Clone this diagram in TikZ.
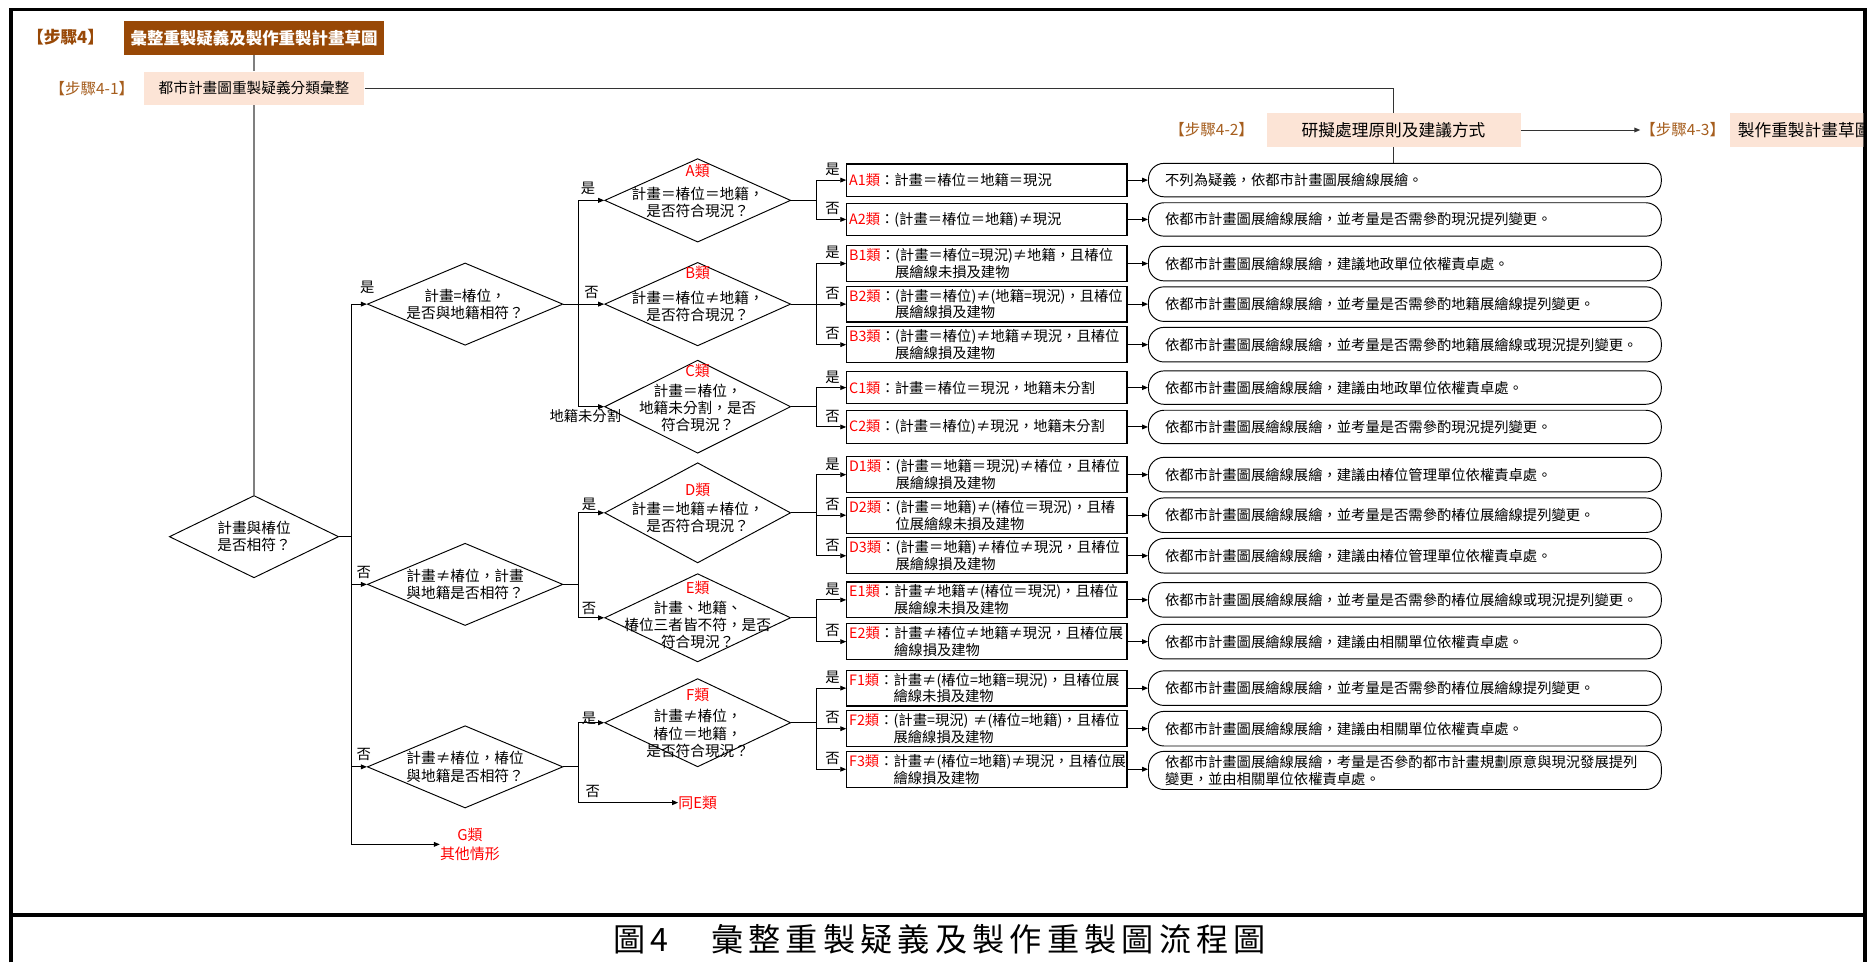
\documentclass[tikz,border=0pt]{standalone}
\usepackage{fontspec}
\setmainfont{Noto Sans CJK TC}
\newfontfamily\capfont[LetterSpace=16]{Noto Sans CJK TC}
\usetikzlibrary{shapes.geometric,arrows.meta}
\definecolor{brn}{HTML}{984806}
\definecolor{brn2}{HTML}{A65E1E}
\definecolor{peach}{HTML}{FCE4D6}
\definecolor{rd}{HTML}{FF0000}
\definecolor{lgray}{HTML}{7F7F7F}
\tikzset{
 ln/.style={line width=0.8pt},
 arr/.style={line width=0.8pt,-{Triangle[length=5pt,width=4pt]}},
 dia/.style={draw,diamond,inner sep=0pt,line width=0.8pt},
 cbox/.style={draw,line width=0.9pt,rectangle,text width=231pt,inner xsep=2pt,inner ysep=0pt,align=left,font=\fontsize{12}{14}\selectfont},
 rbox/.style={draw,line width=0.8pt,rounded corners=13pt,text width=402pt,inner xsep=14pt,inner ysep=0pt,align=left,font=\fontsize{12}{14.5}\selectfont},
 lbl/.style={font=\fontsize{12.3}{14.5}\selectfont,align=center,inner sep=0pt},
 yn/.style={font=\fontsize{12}{14}\selectfont,inner sep=0pt},
 cls/.style={text=rd,font=\fontsize{12.5}{14}\selectfont,inner sep=0pt},
 stp/.style={font=\fontsize{13}{15}\selectfont,text=brn2,inner sep=0pt},
 pbox/.style={fill=peach,minimum height=28pt,inner sep=0pt},
}
\newcommand{\cl}[1]{\textcolor{rd}{#1}}
\begin{document}
\begin{tikzpicture}[x=1pt,y=-1pt]
\useasboundingbox (0,0) rectangle (1568,807);
\fill[white] (0,0) rectangle (1568,807);
% frame
\draw[line width=3pt] (9,807) -- (9,8) -- (1564,8) -- (1564,807);
\draw[line width=3pt] (9,767) -- (1564,767);
\node[font=\capfont\fontsize{27}{30}\selectfont,inner sep=0pt] (cap) at (788,788) {圖4　彙整重製疑義及製作重製圖流程圖};

% top steps
\node[font=\bfseries\fontsize{14}{16}\selectfont,text=brn,inner sep=0pt] (s4) at (55,31) {【步驟4】};
\node[fill=brn,text=white,font=\bfseries\fontsize{13.8}{16}\selectfont,minimum width=218pt,minimum height=28pt,inner sep=0pt] (t4) at (213,32) {彙整重製疑義及製作重製計畫草圖};
\node[stp] (s41) at (77,74) {【步驟4-1】};
\node[pbox,minimum width=185pt,font=\fontsize{12.3}{14}\selectfont] (q41) at (213,74) {都市計畫圖重製疑義分類彙整};
\node[stp] (s42) at (1016,109) {【步驟4-2】};
\node[pbox,minimum width=213pt,font=\fontsize{14}{16}\selectfont] (q42) at (1168.5,109) {研擬處理原則及建議方式};
\node[stp] (s43) at (1411,109) {【步驟4-3】};
\begin{scope}
\clip (0,0) rectangle (1562.5,807);
\node[pbox,anchor=west,minimum width=160pt,text width=150pt,inner xsep=7pt,align=left,font=\fontsize{14}{16}\selectfont] (q43) at (1450,109) {製作重製計畫草圖};
\end{scope}
\draw[line width=1pt,lgray] (t4.south) -- (q41.north);
\draw[line width=0.9pt,black!80] (q41.east) -| (q42.north);
\draw[arr,black!80] (q42.east) -- (s43.west);

% level-1 diamond
\node[dia,minimum width=142pt,minimum height=69pt] (d1) at (213,450) {};
\node[lbl] (t1) at (d1.center) {計畫與椿位\\是否相符？};
\draw[line width=1pt,lgray] (q41.south) -- (d1.north);

% level-2 diamonds
\node[dia,minimum width=164pt,minimum height=69pt] (d2) at (390,255) {};
\node[lbl] (t2) at (d2.center) {計畫=椿位，\\是否與地籍相符？};
\node[dia,minimum width=164pt,minimum height=69pt] (d3) at (390,490) {};
\node[lbl] (t3) at (d3.center) {計畫≠椿位，計畫\\與地籍是否相符？};
\node[dia,minimum width=164pt,minimum height=69pt] (d4) at (390,643) {};
\node[lbl] (t4b) at (d4.center) {計畫≠椿位，椿位\\與地籍是否相符？};
\node[cls,align=center,font=\fontsize{12.5}{16}\selectfont] (G) at (394,708) {G類\\其他情形};

\coordinate (cL) at (295,0);
\draw[ln] (d1.east) -- (d1.east -| cL);
\draw[arr] (d1.east -| cL) |- (d2.west);
\draw[arr] (d1.east -| cL) |- (d3.west);
\draw[arr] (d1.east -| cL) |- (d4.west);
\draw[arr] (d1.east -| cL) |- (G.west);
\node[yn] (y2) at (308,241) {是};
\node[yn] (n3) at (305,480) {否};
\node[yn] (n4) at (305,633) {否};

% level-3 diamonds
\node[dia,minimum width=156pt,minimum height=70pt] (dA) at (585,168) {};
\node[cls] (cA) at (585,143) {A類};
\node[lbl] (tA) at (585,170) {計畫＝椿位＝地籍，\\是否符合現況？};
\node[dia,minimum width=156pt,minimum height=70pt] (dB) at (585,255) {};
\node[cls] (cB) at (585,229) {B類};
\node[lbl] (tB) at (585,257) {計畫＝椿位≠地籍，\\是否符合現況？};
\node[dia,minimum width=156pt,minimum height=78pt] (dC) at (585,341) {};
\node[cls] (cC) at (585,311) {C類};
\node[lbl] (tC) at (585,342) {計畫＝椿位，\\地籍未分割，是否\\符合現況？};
\node[dia,minimum width=156pt,minimum height=84pt] (dD) at (585,430) {};
\node[cls] (cD) at (585,411) {D類};
\node[lbl] (tD) at (585,434) {計畫＝地籍≠椿位，\\是否符合現況？};
\node[dia,minimum width=156pt,minimum height=74pt] (dE) at (585,518) {};
\node[cls] (cE) at (585,493) {E類};
\node[lbl] (tE) at (585,524) {計畫、地籍、\\椿位三者皆不符，是否\\符合現況？};
\node[dia,minimum width=156pt,minimum height=74pt] (dF) at (585,606) {};
\node[cls] (cF) at (585,583) {F類};
\node[lbl] (tF) at (585,615) {計畫≠椿位，\\椿位＝地籍，\\是否符合現況？};
\node[cls] (sameE) at (585,673) {同E類};

\coordinate (cM) at (485,0);
\draw[ln] (d2.east) -- (d2.east -| cM);
\draw[arr] (d2.east -| cM) |- (dA.west);
\draw[arr] (d2.east) -- (dB.west);
\draw[arr] (d2.east -| cM) |- (dC.west);
\node[yn] (yA) at (493,158) {是};
\node[yn] (nB) at (496,245) {否};
\node[yn,anchor=north east] (nC) at (521,343) {地籍未分割};
\draw[ln] (d3.east) -- (d3.east -| cM);
\draw[arr] (d3.east -| cM) |- (dD.west);
\draw[arr] (d3.east -| cM) |- (dE.west);
\node[yn] (yD) at (494,423) {是};
\node[yn] (nE) at (494,510) {否};
\draw[ln] (d4.east) -- (d4.east -| cM);
\draw[arr] (d4.east -| cM) |- (dF.west);
\draw[arr] (d4.east -| cM) |- (sameE.west);
\node[yn] (yF) at (494,602) {是};
\node[yn] (nS) at (497,664) {否};

% category boxes
\node[cbox,minimum height=27pt] (A1) at (827.5,151) {\cl{A1類}：計畫＝椿位＝地籍＝現況};
\node[cbox,minimum height=27pt] (A2) at (827.5,184) {\cl{A2類}：(計畫＝椿位＝地籍)≠現況};
\node[cbox,minimum height=30pt] (B1) at (827.5,221) {\cl{B1類}：(計畫＝椿位=現況)≠地籍，且椿位\\\phantom{B1類：}展繪線未損及建物};
\node[cbox,minimum height=30pt] (B2) at (827.5,255) {\cl{B2類}：(計畫＝椿位)≠(地籍=現況)，且椿位\\\phantom{B2類：}展繪線損及建物};
\node[cbox,minimum height=30pt] (B3) at (827.5,289) {\cl{B3類}：(計畫＝椿位)≠地籍≠現況，且椿位\\\phantom{B3類：}展繪線損及建物};
\node[cbox,minimum height=27pt] (C1) at (827.5,325) {\cl{C1類}：計畫＝椿位＝現況，地籍未分割};
\node[cbox,minimum height=27pt] (C2) at (827.5,358) {\cl{C2類}：(計畫＝椿位)≠現況，地籍未分割};
\node[cbox,minimum height=30pt] (D1) at (827.5,398) {\cl{D1類}：(計畫＝地籍＝現況)≠椿位，且椿位\\\phantom{D1類：}展繪線損及建物};
\node[cbox,minimum height=30pt] (D2) at (827.5,432) {\cl{D2類}：(計畫＝地籍)≠(椿位＝現況)，且椿\\\phantom{D2類：}位展繪線未損及建物};
\node[cbox,minimum height=30pt] (D3) at (827.5,466) {\cl{D3類}：(計畫＝地籍)≠椿位≠現況，且椿位\\\phantom{D3類：}展繪線損及建物};
\node[cbox,minimum height=30pt] (E1) at (827.5,503) {\cl{E1類}：計畫≠地籍≠(椿位＝現況)，且椿位\\\phantom{E1類：}展繪線未損及建物};
\node[cbox,minimum height=30pt] (E2) at (827.5,538) {\cl{E2類}：計畫≠椿位≠地籍≠現況，且椿位展\\\phantom{E2類：}繪線損及建物};
\node[cbox,minimum height=30pt] (F1) at (827.5,577) {\cl{F1類}：計畫≠(椿位=地籍=現況)，且椿位展\\\phantom{F1類：}繪線未損及建物};
\node[cbox,minimum height=30pt] (F2) at (827.5,611) {\cl{F2類}：(計畫=現況) ≠(椿位=地籍)，且椿位\\\phantom{F2類：}展繪線損及建物};
\node[cbox,minimum height=30pt] (F3) at (827.5,645) {\cl{F3類}：計畫≠(椿位=地籍)≠現況，且椿位展\\\phantom{F3類：}繪線損及建物};

% result boxes
\node[rbox,minimum height=28pt] (rA1) at (1178,151) {不列為疑義，依都市計畫圖展繪線展繪。};
\node[rbox,minimum height=28pt] (rA2) at (1178,184) {依都市計畫圖展繪線展繪，並考量是否需參酌現況提列變更。};
\node[rbox,minimum height=29pt] (rB1) at (1178,221) {依都市計畫圖展繪線展繪，建議地政單位依權責卓處。};
\node[rbox,minimum height=29pt] (rB2) at (1178,255) {依都市計畫圖展繪線展繪，並考量是否需參酌地籍展繪線提列變更。};
\node[rbox,minimum height=29pt] (rB3) at (1178,289) {依都市計畫圖展繪線展繪，並考量是否需參酌地籍展繪線或現況提列變更。};
\node[rbox,minimum height=28pt] (rC1) at (1178,325) {依都市計畫圖展繪線展繪，建議由地政單位依權責卓處。};
\node[rbox,minimum height=28pt] (rC2) at (1178,358) {依都市計畫圖展繪線展繪，並考量是否需參酌現況提列變更。};
\node[rbox,minimum height=29pt] (rD1) at (1178,398) {依都市計畫圖展繪線展繪，建議由椿位管理單位依權責卓處。};
\node[rbox,minimum height=29pt] (rD2) at (1178,432) {依都市計畫圖展繪線展繪，並考量是否需參酌椿位展繪線提列變更。};
\node[rbox,minimum height=29pt] (rD3) at (1178,466) {依都市計畫圖展繪線展繪，建議由椿位管理單位依權責卓處。};
\node[rbox,minimum height=29pt] (rE1) at (1178,503) {依都市計畫圖展繪線展繪，並考量是否需參酌椿位展繪線或現況提列變更。};
\node[rbox,minimum height=29pt] (rE2) at (1178,538) {依都市計畫圖展繪線展繪，建議由相關單位依權責卓處。};
\node[rbox,minimum height=29pt] (rF1) at (1178,577) {依都市計畫圖展繪線展繪，並考量是否需參酌椿位展繪線提列變更。};
\node[rbox,minimum height=29pt] (rF2) at (1178,611) {依都市計畫圖展繪線展繪，建議由相關單位依權責卓處。};
\node[rbox,minimum height=32pt] (rF3) at (1178,646) {依都市計畫圖展繪線展繪，考量是否參酌都市計畫規劃原意與現況發展提列\\變更，並由相關單位依權責卓處。};

\draw[ln,black!80] (q42.south) -- (q42.south |- rA1.north);

% branches from level-3 diamonds
\coordinate (cR) at (685,0);
\draw[ln] (dA.east) -- (dA.east -| cR);
\draw[arr] (dA.east -| cR) |- (A1.west);
\draw[arr] (dA.east -| cR) |- (A2.west);
\draw[ln] (dB.east) -- (dB.east -| cR);
\draw[arr] (dB.east -| cR) |- (B1.west);
\draw[arr] (dB.east -| cR) |- (B2.west);
\draw[arr] (dB.east -| cR) |- (B3.west);
\draw[ln] (dC.east) -- (dC.east -| cR);
\draw[arr] (dC.east -| cR) |- (C1.west);
\draw[arr] (dC.east -| cR) |- (C2.west);
\draw[ln] (dD.east) -- (dD.east -| cR);
\draw[arr] (dD.east -| cR) |- (D1.west);
\draw[arr] (dD.east -| cR) |- (D2.west);
\draw[arr] (dD.east -| cR) |- (D3.west);
\draw[ln] (dE.east) -- (dE.east -| cR);
\draw[arr] (dE.east -| cR) |- (E1.west);
\draw[arr] (dE.east -| cR) |- (E2.west);
\draw[ln] (dF.east) -- (dF.east -| cR);
\draw[arr] (dF.east -| cR) |- (F1.west);
\draw[arr] (dF.east -| cR) |- (F2.west);
\draw[arr] (dF.east -| cR) |- (F3.west);

\node[yn] at (698,142) {是};
\node[yn] at (698,175) {否};
\node[yn] at (698,212) {是};
\node[yn] at (698,246) {否};
\node[yn] at (698,280) {否};
\node[yn] at (698,316) {是};
\node[yn] at (698,349) {否};
\node[yn] at (698,389) {是};
\node[yn] at (698,423) {否};
\node[yn] at (698,457) {否};
\node[yn] at (698,494) {是};
\node[yn] at (698,529) {否};
\node[yn] at (698,568) {是};
\node[yn] at (698,602) {否};
\node[yn] at (698,636) {否};

% arrows to results
\foreach \r in {A1,A2,B1,B2,B3,C1,C2,D1,D2,D3,E1,E2,F1,F2,F3}{
  \draw[arr] (\r.east) -- (r\r.west |- \r.east);
}
\end{tikzpicture}
\end{document}
